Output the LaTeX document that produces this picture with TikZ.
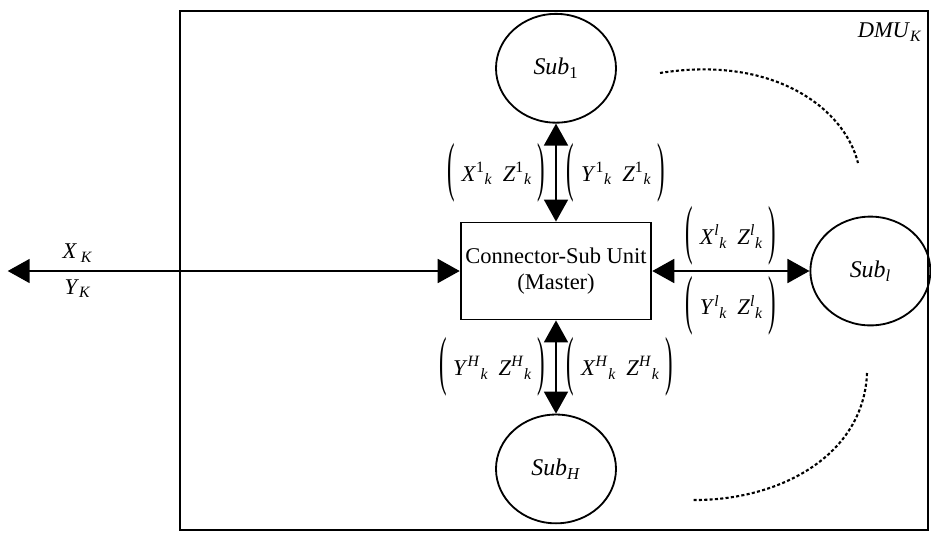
\documentclass[tikz,border=0pt]{standalone}
\usepackage{fontspec}
\usepackage{graphicx}
\setmainfont{Liberation Serif}
\usetikzlibrary{shapes.geometric, arrows.meta, positioning}

\newcommand{\tallparen}[1]{\raisebox{-5pt}{\scalebox{1}[2.9]{#1}}}
\newcommand{\flowpair}[4]{\tallparen{(}\hspace{0.3em}\textit{#1}\textsuperscript{#2}\textsubscript{\textit{k}}\hspace{0.45em}\textit{#3}\textsuperscript{#4}\textsubscript{\textit{k}}\hspace{0.25em}\tallparen{)}}

\begin{document}
\begin{tikzpicture}[
    % Style definitions
    master/.style={rectangle, minimum width=4.7cm, minimum height=2.425cm,
                   align=center, draw=black, line width=1.3pt, font=\fontsize{16}{18}\selectfont},
    subunit/.style={ellipse, minimum width=3cm, minimum height=2.72cm,
                    draw=black, line width=1.3pt, font=\fontsize{17}{20}\selectfont},
    frame/.style={rectangle, draw=black, line width=1.5pt,
                  minimum width=18.7cm, minimum height=12.975cm},
    flow/.style={font=\fontsize{16}{20}\selectfont, inner sep=0pt},
    outer/.style={font=\fontsize{16}{19}\selectfont},
    arrow/.style={{Triangle[length=0.55cm, width=0.6cm]}-{Triangle[length=0.55cm, width=0.6cm]}, line width=1.3pt},
    link/.style={dash pattern=on 2.2pt off 1.6pt, line width=1.5pt},
]
\useasboundingbox (-13.9,-6.55) rectangle (9.375,6.775);

% DMU frame
\node[frame] (dmu) at (-0.05,0.0125) {};
\node[outer, below left=0.2cm and 0.05cm of dmu.north east] (dmulabel) {\textit{DMU}\textsubscript{\textit{K}}};

% Master and sub units
\node[master] (master) at (0,0) {Connector-Sub Unit\\(Master)};
\node[subunit, above=2.45cm of master] (sub1) {\textit{Sub}\textsubscript{1}};
\node[subunit, below=2.33cm of master] (subH) {\textit{Sub}\textsubscript{\textit{H}}};
\node[subunit, right=3.93cm of master] (subl) {\textit{Sub}\textsubscript{\textit{l}}};
\coordinate[left=11.3cm of master] (outK);

% Arrows
\draw[arrow] (master) -- node[flow, left=0.25cm] {\flowpair{X}{1}{Z}{1}}
                         node[flow, right=0.25cm] {\flowpair{Y}{1}{Z}{1}} (sub1);
\draw[arrow] (master) -- node[flow, left=0.25cm] {\flowpair{Y}{\textit{H}}{Z}{\textit{H}}}
                         node[flow, right=0.25cm] {\flowpair{X}{\textit{H}}{Z}{\textit{H}}} (subH);
\draw[arrow] (master) -- node[flow, above=0.12cm] {\flowpair{X}{\textit{l}}{Z}{\textit{l}}}
                         node[flow, below=0.12cm] {\flowpair{Y}{\textit{l}}{Z}{\textit{l}}} (subl);
\draw[arrow] (outK) -- node[outer, pos=0.155, above=2pt] {\textit{X}\,\textsubscript{\textit{K}}}
                       node[outer, pos=0.155, below=2pt] {\textit{Y}\textsubscript{\textit{K}}} (master);

% Dotted links to further sub units
\draw[link] (2.6,4.95) .. controls (5.4,5.4) and (7.2,4.1) .. (7.55,2.7);
\draw[link] (7.775,-2.55) .. controls (7.7,-4.6) and (5.6,-5.75) .. (3.4,-5.725);

\end{tikzpicture}
\end{document}
